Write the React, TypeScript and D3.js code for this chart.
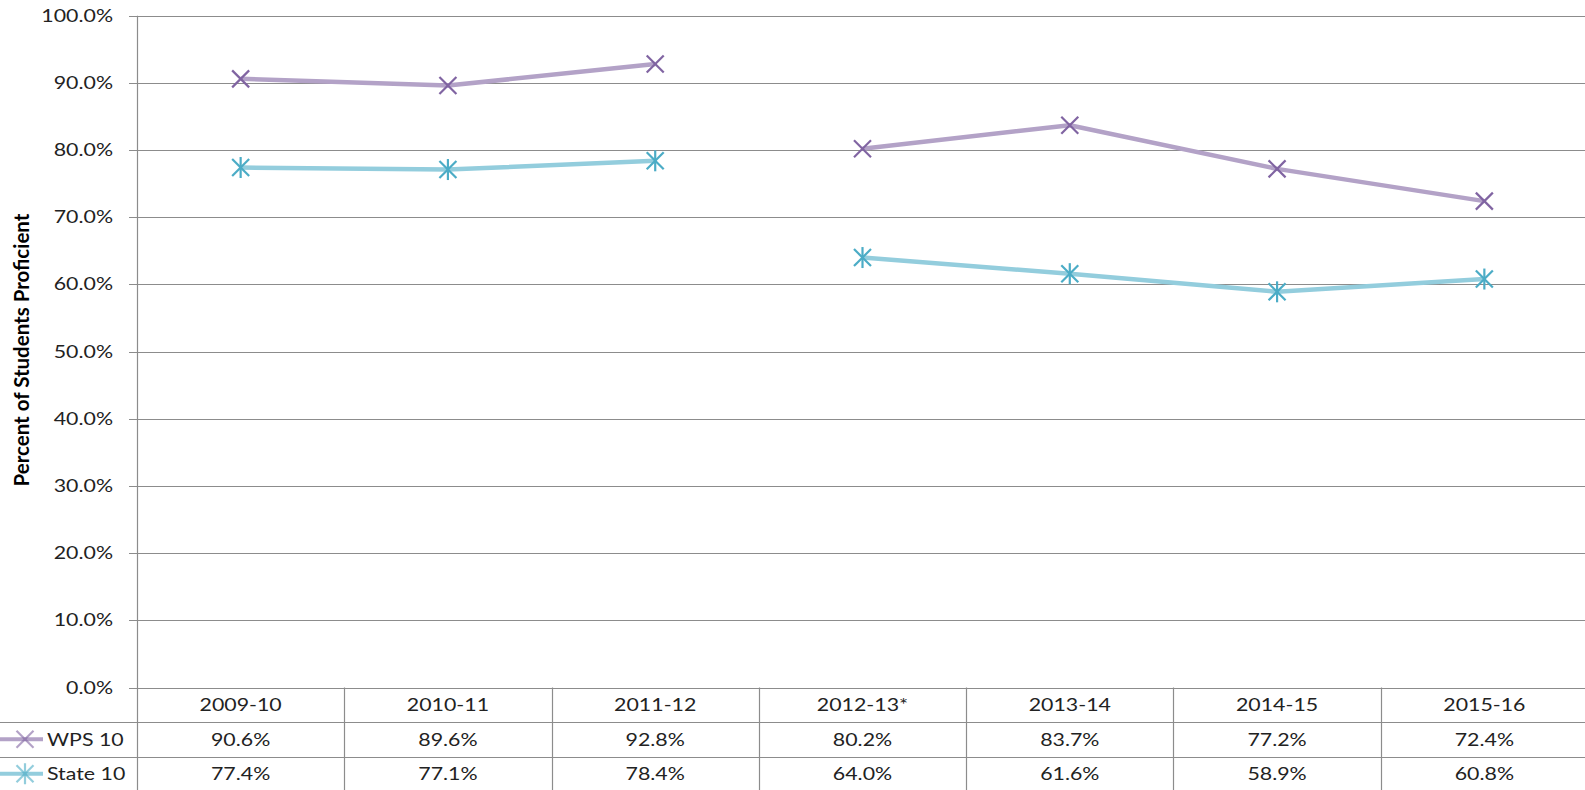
import React, { useEffect, useRef } from "react";
import * as d3 from "d3";

const categories = ["2009-10", "2010-11", "2011-12", "2012-13*", "2013-14", "2014-15", "2015-16"];
const wpsValues = [90.6, 89.6, 92.8, 80.2, 83.7, 77.2, 72.4];
const stateValues = [77.4, 77.1, 78.4, 64.0, 61.6, 58.9, 60.8];
const yTicks = [0, 10, 20, 30, 40, 50, 60, 70, 80, 90, 100];
// the lines are not joined across this year
const breakBefore = "2012-13*";

const series = [
  { name: "WPS 10", values: wpsValues, line: "#b3a2c7", marker: "#8064a2", shape: "x" },
  { name: "State 10", values: stateValues, line: "#93cddd", marker: "#4bacc6", shape: "star" },
];

const W = 1585;
const H = 790;
const FONT = "Lato, 'Open Sans', sans-serif";
const STRETCH = 1.22; // the original picture is stretched sideways

const App = () => {
  const ref = useRef<SVGSVGElement>(null);

  useEffect(() => {
    const svg = d3.select(ref.current);
    svg.selectAll("*").remove();

    const left = 137;
    const right = 1588;
    const x = d3.scaleBand().domain(categories).range([left, right]);
    const y = d3.scaleLinear().domain([0, 100]).range([687.5, 15.7]);
    const cx = (c) => x(c) + x.bandwidth() / 2;

    const rowTop = y(0);
    const rowH = 34.5;
    const rows = [rowTop, rowTop + rowH, rowTop + 2 * rowH, rowTop + 3 * rowH];
    const grid = "#8c8c8c";

    // gridlines
    svg
      .append("g")
      .selectAll("line")
      .data(yTicks)
      .join("line")
      .attr("x1", left - 8)
      .attr("x2", W)
      .attr("y1", (d) => Math.round(y(d)) + 0.5)
      .attr("y2", (d) => Math.round(y(d)) + 0.5)
      .attr("stroke", grid)
      .attr("stroke-width", 1.2);

    // y labels
    svg
      .append("g")
      .selectAll("text")
      .data(yTicks)
      .join("text")
      .attr("transform", (d) => `translate(113,${y(d) + 6}) scale(${STRETCH},1)`)
      .attr("text-anchor", "end")
      .attr("font-family", FONT)
      .attr("font-size", 17.5)
      .attr("fill", "#222")
      .text((d) => d.toFixed(1) + "%");

    // axis title
    svg
      .append("text")
      .attr("transform", `translate(29,350) rotate(-90) scale(1,1.05)`)
      .attr("text-anchor", "middle")
      .attr("font-family", FONT)
      .attr("font-weight", "bold")
      .attr("font-size", 20.5)
      .attr("fill", "#000")
      .text("Percent of Students Proficient");

    // data table lines
    const table = svg.append("g").attr("stroke", grid).attr("stroke-width", 1.2);
    table
      .append("line")
      .attr("x1", left + 0.5)
      .attr("x2", left + 0.5)
      .attr("y1", y(100))
      .attr("y2", H);
    table
      .selectAll(".col")
      .data(categories.slice(1))
      .join("line")
      .attr("x1", (d) => Math.round(x(d)) + 0.5)
      .attr("x2", (d) => Math.round(x(d)) + 0.5)
      .attr("y1", rowTop)
      .attr("y2", H);
    table
      .selectAll(".row")
      .data(rows.slice(1))
      .join("line")
      .attr("x1", 0)
      .attr("x2", W)
      .attr("y1", (d) => Math.round(d) + 0.5)
      .attr("y2", (d) => Math.round(d) + 0.5);

    const cellText = (g, px, py, txt, anchor = "middle") =>
      g
        .append("text")
        .attr("transform", `translate(${px},${py}) scale(${STRETCH},1)`)
        .attr("text-anchor", anchor)
        .attr("font-family", FONT)
        .attr("font-size", 17.5)
        .attr("fill", "#222")
        .text(txt);

    const cells = svg.append("g");
    categories.forEach((c) => cellText(cells, cx(c), (rows[0] + rows[1]) / 2 + 6.5, c));

    const drawMarker = (g, px, py, s) => {
      const r = 8.5;
      const m = g.append("g").attr("stroke", s.marker).attr("stroke-width", 2.2);
      m.append("line").attr("x1", px - r).attr("y1", py - r).attr("x2", px + r).attr("y2", py + r);
      m.append("line").attr("x1", px - r).attr("y1", py + r).attr("x2", px + r).attr("y2", py - r);
      if (s.shape === "star") {
        m.append("line").attr("x1", px).attr("y1", py - r - 2).attr("x2", px).attr("y2", py + r + 2);
      }
    };

    series.forEach((s, i) => {
      const rowMid = (rows[i + 1] + rows[i + 2]) / 2;
      s.values.forEach((v, j) => cellText(cells, cx(categories[j]), rowMid + 6.5, v.toFixed(1) + "%"));

      // legend key in the table
      const key = svg.append("g");
      key
        .append("line")
        .attr("x1", 0)
        .attr("x2", 43)
        .attr("y1", rowMid)
        .attr("y2", rowMid)
        .attr("stroke", s.line)
        .attr("stroke-width", 4);
      const km = key.append("g").attr("opacity", 0.6);
      drawMarker(km, 25, rowMid, s);
      cellText(key, 47, rowMid + 6.5, s.name, "start");

      // line segments, broken before breakBefore
      const pts = categories.map((c, j) => ({ c, v: s.values[j] }));
      const b = categories.indexOf(breakBefore);
      const segs = [pts.slice(0, b), pts.slice(b)];
      const line = d3
        .line()
        .x((d) => cx(d.c))
        .y((d) => y(d.v));
      svg
        .append("g")
        .selectAll("path")
        .data(segs)
        .join("path")
        .attr("d", (d) => line(d))
        .attr("fill", "none")
        .attr("stroke", s.line)
        .attr("stroke-width", 4.5)
        .attr("stroke-linejoin", "round");
      const mg = svg.append("g");
      pts.forEach((p) => drawMarker(mg, cx(p.c), y(p.v), s));
    });
  }, []);

  return (
    <svg
      ref={ref}
      width={W}
      height={H}
      style={{ position: "absolute", left: 0, top: 0, background: "#fff" }}
    />
  );
};

export default App;
